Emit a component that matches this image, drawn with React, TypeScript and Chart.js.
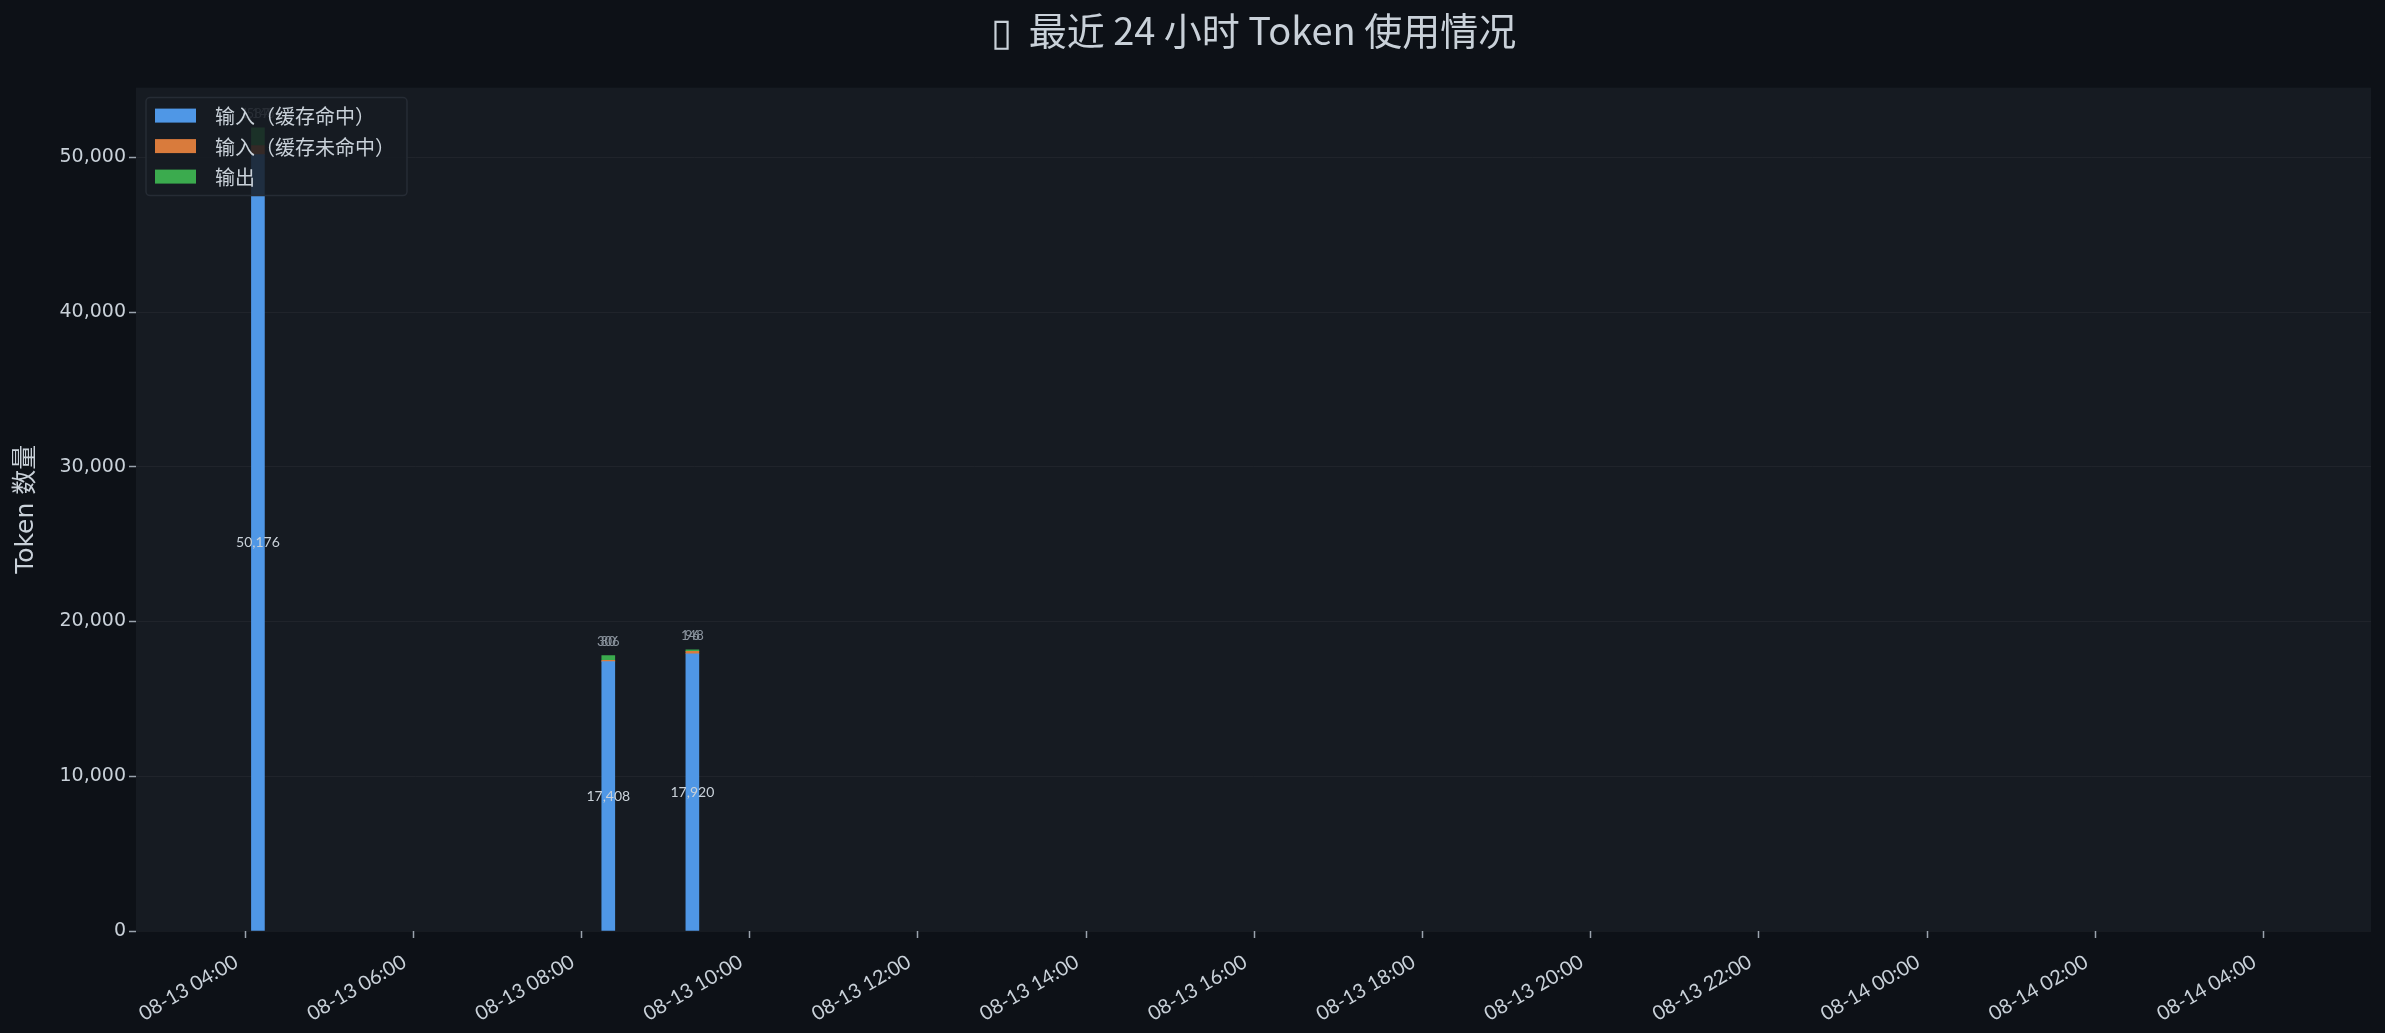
import { useEffect, useRef } from 'react';
import { Chart, registerables } from 'chart.js';

Chart.register(...registerables);

// bucket times (MM-DD HH:mm)
const times = ['08-13 04:09', '08-13 08:19', '08-13 09:19'];
const cacheHit = [50176, 17408, 17920];
const cacheMiss = [587, 80, 148];
const output = [1148, 306, 96];

const seriesNames = ['输入（缓存命中）', '输入（缓存未命中）', '输出'];
const seriesColors = ['#4f97e6', '#d97b3c', '#3bab4e'];

const tickLabels = [
  '08-13 04:00', '08-13 06:00', '08-13 08:00', '08-13 10:00', '08-13 12:00',
  '08-13 14:00', '08-13 16:00', '08-13 18:00', '08-13 20:00', '08-13 22:00',
  '08-14 00:00', '08-14 02:00', '08-14 04:00',
];
const yTicks = [0, 10000, 20000, 30000, 40000, 50000];

const TITLE = '▯  最近 24 小时 Token 使用情况';
const Y_TITLE = 'Token 数量';

const BG = '#0d1117';
const PLOT_BG = '#161b22';
const TEXT = '#c9d1d9';
const CJK = '"Noto Sans CJK SC", "DejaVu Sans", sans-serif';
const LATIN = '"DejaVu Sans", "Noto Sans CJK SC", sans-serif';
const GEO = 'Lato, "Noto Sans CJK SC", sans-serif';

// hours since 08-13 04:00
function toHours(s: string) {
  const [md, hm] = s.split(' ');
  const day = parseInt(md.split('-')[1], 10);
  const [h, m] = hm.split(':').map(Number);
  return (day - 13) * 24 + h - 4 + m / 60;
}

const xs = times.map(toHours);
const tickValues = tickLabels.map(toHours);
const totals = cacheHit.map((v, i) => v + cacheMiss[i] + output[i]);

const plotBg = {
  id: 'plotBg',
  beforeDraw(chart: any) {
    const { ctx, chartArea: a } = chart;
    ctx.save();
    ctx.fillStyle = PLOT_BG;
    ctx.fillRect(a.left, a.top, a.right - a.left, a.bottom - a.top);
    ctx.restore();
  },
};

const valueLabels = {
  id: 'valueLabels',
  afterDatasetsDraw(chart: any) {
    const { ctx } = chart;
    ctx.save();
    ctx.textAlign = 'center';
    ctx.textBaseline = 'middle';
    const hit = chart.getDatasetMeta(0).data;
    hit.forEach((el: any, i: number) => {
      ctx.font = `14px ${GEO}`;
      ctx.fillStyle = TEXT;
      ctx.fillText(cacheHit[i].toLocaleString('en-US'), el.x, (el.y + el.base) / 2);
    });
    [cacheMiss, output].forEach((vals) => {
      const top = chart.getDatasetMeta(2).data;
      top.forEach((el: any, i: number) => {
        ctx.font = `13px ${GEO}`;
        ctx.fillStyle = '#8b949e';
        ctx.fillText(vals[i].toLocaleString('en-US'), el.x, el.y - 14);
      });
    });
    ctx.restore();
  },
};

const boxLegend = {
  id: 'boxLegend',
  afterDraw(chart: any) {
    const { ctx, chartArea: a } = chart;
    const x0 = a.left + 10;
    const y0 = a.top + 10;
    ctx.save();
    ctx.font = `20px ${CJK}`;
    const tw = Math.max(...seriesNames.map((n) => ctx.measureText(n).width));
    const w = 69 + tw + 12;
    const h = 98;
    ctx.beginPath();
    ctx.roundRect(x0, y0, w, h, 4);
    ctx.fillStyle = 'rgba(22, 27, 34, 0.85)';
    ctx.fill();
    ctx.strokeStyle = '#262c35';
    ctx.lineWidth = 1.5;
    ctx.stroke();
    ctx.textAlign = 'left';
    ctx.textBaseline = 'middle';
    seriesNames.forEach((n, i) => {
      const cy = y0 + 18 + i * 30.5;
      ctx.fillStyle = seriesColors[i];
      ctx.fillRect(x0 + 9, cy - 7, 41, 14);
      ctx.fillStyle = TEXT;
      ctx.fillText(n, x0 + 69, cy + 1);
    });
    ctx.restore();
  },
};

function TokenChart() {
  const canvasRef = useRef<HTMLCanvasElement>(null);

  useEffect(() => {
    document.body.style.margin = '0';
    document.body.style.background = BG;
    if (!canvasRef.current) return;

    const series = [cacheHit, cacheMiss, output];
    const chart = new Chart(canvasRef.current, {
      type: 'bar',
      data: {
        datasets: series.map((vals, d) => ({
          label: seriesNames[d],
          data: vals.map((v, i) => ({ x: xs[i], y: v })),
          backgroundColor: seriesColors[d],
          borderWidth: 0,
          barThickness: 13,
        })),
      },
      options: {
        animation: false,
        responsive: true,
        maintainAspectRatio: false,
        layout: { padding: { right: 14 } },
        plugins: {
          legend: { display: false },
          tooltip: { enabled: false },
          title: {
            display: true,
            text: TITLE,
            fullSize: false,
            color: TEXT,
            font: { family: CJK, size: 38, weight: 'normal' },
            padding: { top: 8, bottom: 34 },
          },
        },
        scales: {
          x: {
            type: 'linear',
            stacked: true,
            offset: false,
            min: -1.3,
            max: 25.28,
            border: { display: false },
            grid: {
              offset: false,
              drawOnChartArea: false,
              drawTicks: true,
              tickLength: 7,
              tickColor: '#9aa3ad',
              tickWidth: 1.5,
            },
            ticks: {
              autoSkip: false,
              minRotation: 30,
              maxRotation: 30,
              padding: 12,
              labelOffset: -9,
              color: TEXT,
              font: { family: GEO, size: 20 },
              callback: (_v: any, i: number) => tickLabels[i],
            },
            afterBuildTicks: (s: any) => {
              s.ticks = tickValues.map((v) => ({ value: v }));
            },
            afterFit: (s: any) => {
              s.height = 102;
            },
          },
          y: {
            stacked: true,
            min: 0,
            max: Math.max(...totals) * 1.05,
            border: { display: false },
            grid: {
              color: 'rgba(255, 255, 255, 0.045)',
              tickLength: 7,
              tickColor: '#9aa3ad',
              tickWidth: 1.5,
            },
            ticks: {
              padding: 3,
              color: TEXT,
              font: { family: LATIN, size: 19 },
              callback: (v: any) => Number(v).toLocaleString('en-US'),
            },
            afterBuildTicks: (s: any) => {
              s.ticks = yTicks.map((v) => ({ value: v }));
            },
            title: {
              display: true,
              text: Y_TITLE,
              color: TEXT,
              font: { family: LATIN, size: 25 },
              padding: { top: 11, bottom: 0 },
            },
            afterFit: (s: any) => {
              s.width = 136;
            },
          },
        },
      } as any,
      plugins: [plotBg, valueLabels, boxLegend],
    });

    return () => chart.destroy();
  }, []);

  return (
    <div style={{ position: 'fixed', inset: 0, background: BG }}>
      <canvas ref={canvasRef} />
    </div>
  );
}

export default function App() {
  return <TokenChart />;
}
